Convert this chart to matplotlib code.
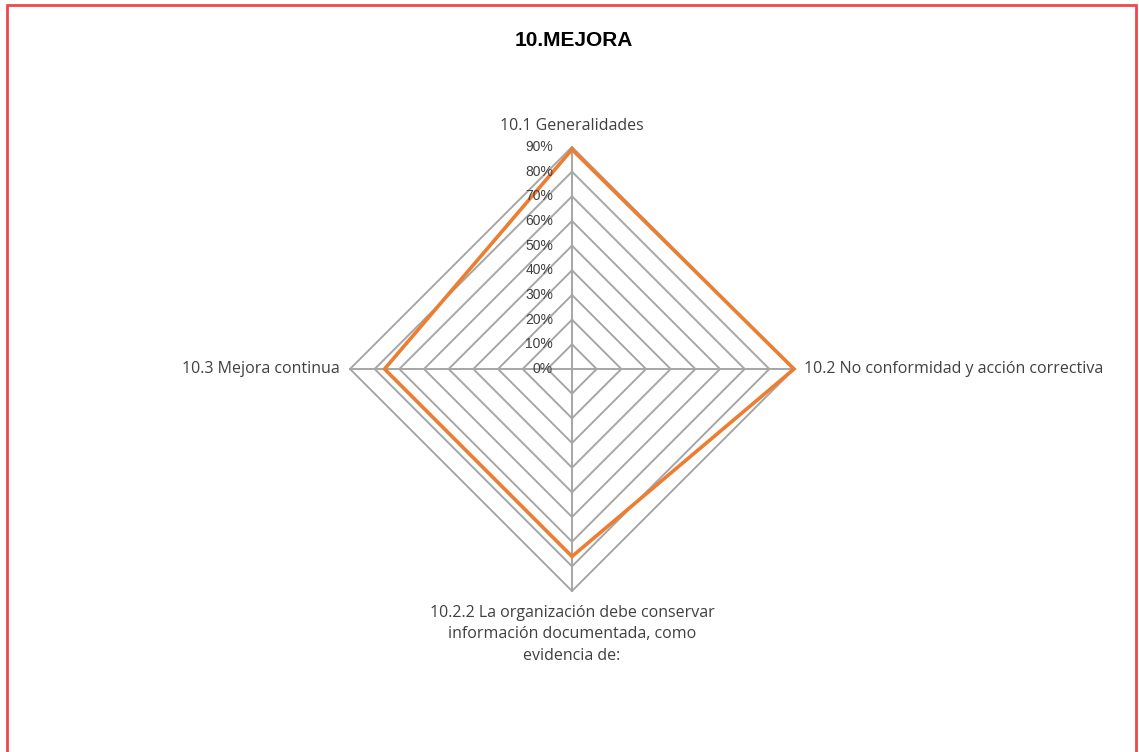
import matplotlib
matplotlib.use("Agg")
import matplotlib.pyplot as plt
import matplotlib.transforms as mtransforms
from matplotlib.patches import Rectangle
import numpy as np

categories = [
    "10.1 Generalidades",
    "10.2 No conformidad y acción correctiva",
    "10.2.2 La organización debe conservar\ninformación documentada, como\nevidencia de:",
    "10.3 Mejora continua",
]
values = [0.89, 0.90, 0.76, 0.76]
levels = [0.0, 0.1, 0.2, 0.3, 0.4, 0.5, 0.6, 0.7, 0.8, 0.9]
level_labels = ["0%", "10%", "20%", "30%", "40%", "50%", "60%", "70%", "80%", "90%"]
title = "10.MEJORA"

plt.rcParams["font.family"] = ["Liberation Sans", "DejaVu Sans"]

W, H = 1139, 752
fig = plt.figure(figsize=(W / 100, H / 100), dpi=100)

# red frame around the chart area
fig.patches.append(Rectangle((7 / W, -0.01), (1136 - 7) / W, 1 - 5 / H + 0.01,
                             transform=fig.transFigure, fill=False,
                             edgecolor="#f0474a", linewidth=2))

cx, cy, rad = 572, 369, 222
ax = fig.add_axes([(cx - rad) / W, (H - cy - rad) / H, 2 * rad / W, 2 * rad / H],
                  projection="polar")
ax.set_theta_zero_location("N")
ax.set_theta_direction(-1)
ax.set_ylim(0, 0.9)
ax.grid(False)
ax.spines["polar"].set_visible(False)
ax.set_xticks([])
ax.set_yticks([])
ax.patch.set_alpha(0)

n = len(categories)
theta = np.arange(n) * 2 * np.pi / n
theta_closed = np.append(theta, theta[0])

grid_col = "#a6a6a6"
for lv in levels[1:]:
    ax.plot(theta_closed, [lv] * (n + 1), color=grid_col, lw=1.4, clip_on=False)
for t in theta:
    ax.plot([t, t], [0, levels[-1]], color=grid_col, lw=1.4, clip_on=False)

vals_closed = values + values[:1]
ax.plot(theta_closed, vals_closed, color="#ed7d31", lw=2.6, clip_on=False,
        solid_joinstyle="miter")

txt_col = "#404040"
lab_off = mtransforms.offset_copy(ax.transData, fig=fig, x=-19, y=0, units="dots")
for lv, lab in zip(levels, level_labels):
    ax.text(0, lv, lab, transform=lab_off, ha="right", va="center",
            fontsize=10, color=txt_col)

offsets = [(0, 13, "center", "bottom"), (10, 0, "left", "center"),
           (0, -14, "center", "top"), (-10, 0, "right", "center")]
for t, lab, (dx, dy, ha, va) in zip(theta, categories, offsets):
    tr = mtransforms.offset_copy(ax.transData, fig=fig, x=dx, y=dy, units="dots")
    ax.text(t, levels[-1], lab, transform=tr, ha=ha, va=va, fontsize=11.5,
            family=["Open Sans", "DejaVu Sans"], color=txt_col,
            linespacing=1.45, clip_on=False)

fig.text(574 / W, 1 - 40 / H, title, ha="center", va="center",
         fontsize=15, fontweight="bold", color="#000000")

fig.savefig("out.png", dpi=100, facecolor="white")
